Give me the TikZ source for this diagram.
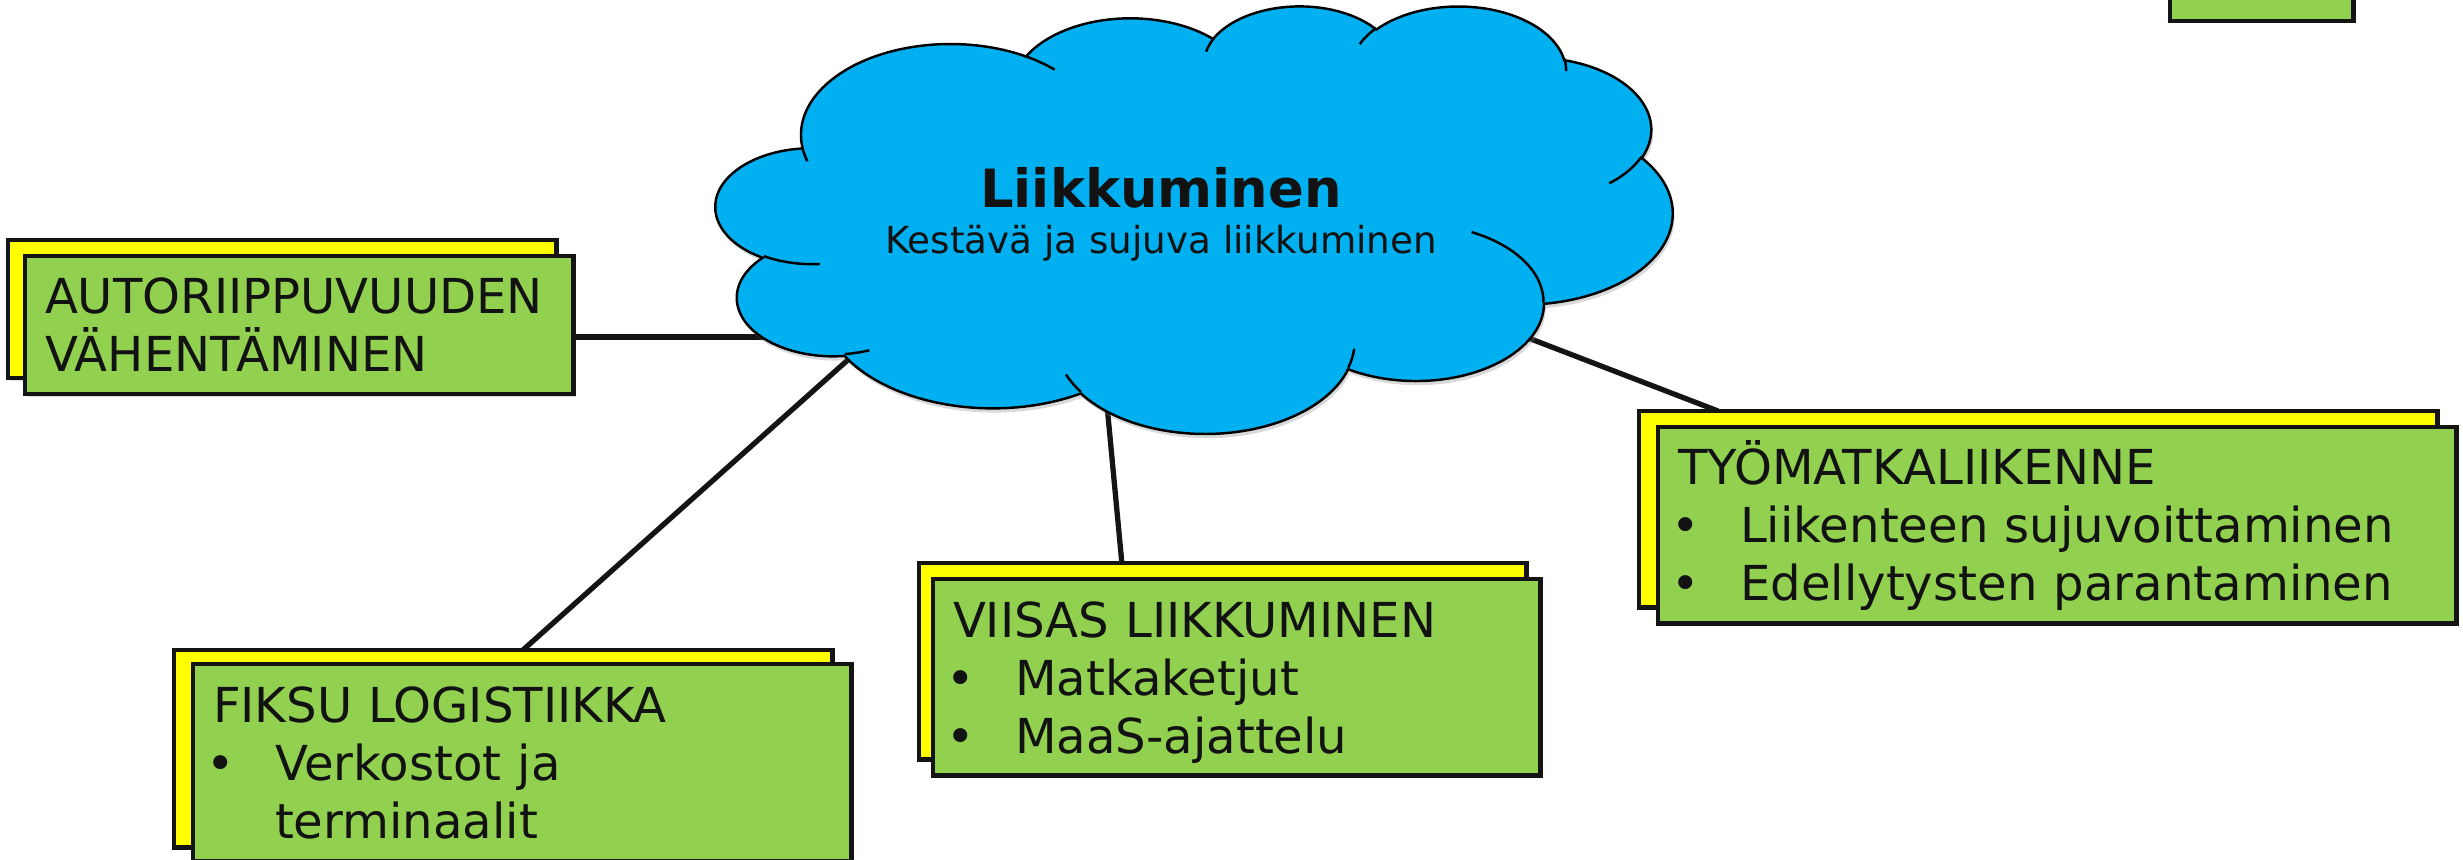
\documentclass[tikz,border=0pt]{standalone}
\usepackage{fontspec}
\setmainfont{DejaVu Sans}
\usetikzlibrary{calc,shadows,backgrounds}

\definecolor{cloudblue}{HTML}{00B0F0}
\definecolor{boxgreen}{HTML}{92D050}
\definecolor{boxyellow}{HTML}{FFFF00}

\newcommand{\itm}[1]{\makebox[0.62cm][l]{\hspace{-0.07cm}\textbullet}#1}

% elliptic arc given by x/y radius, start angle and sweep (angles as seen on the ellipse)
\newcommand{\cloudarc}[5]{%
  \pgfmathsetmacro{\arcst}{#4+mod(atan2(#2*sin(#4),#3*cos(#4))-(#4)+540,360)-180}%
  \pgfmathsetmacro{\arcen}{#4+#5+mod(atan2(#2*sin(#4+#5),#3*cos(#4+#5))-(#4+#5)+540,360)-180}%
  \pgfmathsetmacro{\arcdl}{\arcen-\arcst}%
  \edef\arcdo{\noexpand\tikzset{#1/.style={start angle=\arcst, delta angle=\arcdl, x radius=#2, y radius=#3}}}%
  \arcdo}

\begin{document}
\begin{tikzpicture}[x=0.01cm, y=-0.01cm]
        \tikzstyle{every node}=[inner sep=0pt, outer sep=0pt]
        \tikzstyle{backbox}=[draw=black!92, line width=1.35pt, fill=boxyellow, anchor=north west,
            drop shadow={opacity=0.25, shadow xshift=0.7pt, shadow yshift=-0.7pt}]
        \tikzstyle{frontbox}=[draw=black!92, line width=1.35pt, fill=boxgreen, anchor=north west,
            inner xsep=0.2cm, align=left, text=black!93, font=\fontsize{13.7}{16.5}\selectfont,
            drop shadow={opacity=0.25, shadow xshift=0.7pt, shadow yshift=-0.7pt}]
        \tikzstyle{link}=[line width=1.5pt, black!92]

        \useasboundingbox (0,0) rectangle (2463,859);

        % outline of the cloud
        \cloudarc{ca1}{67.53}{91.90}{-190.48748}{123.78053}
        \cloudarc{ca2}{53.33}{72.67}{-144.10238}{89.94523}
        \cloudarc{ca3}{43.65}{59.45}{-145.80792}{99.72302}
        \cloudarc{ca4}{48.57}{65.95}{-130.98607}{117.24173}
        \cloudarc{ca5}{53.33}{72.73}{-78.70888}{109.02692}
        \cloudarc{ca6}{67.75}{92.20}{-46.26725}{130.269}
        \cloudarc{ca7}{57.85}{78.67}{0.62502}{114.03333}
        \cloudarc{ca8}{67.52}{92.15}{22.4516}{115.17255}
        \cloudarc{ca9}{77.20}{105.43}{66.24263}{75.71102}
        \cloudarc{ca10}{43.60}{59.18}{-274.94208}{146.73557}
        \cloudarc{ca11}{43.45}{59.45}{-246.8285}{152.51885}
        % small inner strokes
        \cloudarc{ci1}{43.45}{59.45}{86.742}{26.4295}
        \cloudarc{ci2}{43.60}{59.18}{73.61047}{11.44747}
        \cloudarc{ci3}{67.52}{92.15}{137.62415}{14.0811}
        \cloudarc{ci4}{67.52}{92.15}{6.45327}{15.99835}
        \cloudarc{ci5}{57.85}{78.67}{-70.29235}{70.91737}
        \cloudarc{ci6}{53.33}{72.73}{30.31803}{27.7515}
        \cloudarc{ci7}{48.57}{65.95}{-13.74433}{14.85483}
        \cloudarc{ci8}{48.57}{65.95}{-149.18145}{18.19365}
        \cloudarc{ci9}{43.65}{59.45}{-163.49427}{17.69642}
        \cloudarc{ci10}{67.53}{91.90}{-66.70695}{12.31935}
        \cloudarc{ci11}{67.53}{91.90}{157.65435}{11.85817}

        \begin{scope}[shift={(716,5)}, x=0.02213cm, y=-0.0098843cm]
            \draw[fill=cloudblue, draw=black, line width=0.7pt,
                drop shadow={opacity=0.3, shadow xshift=0.5pt, shadow yshift=-1.2pt}]
                (39.00,143.70) arc[ca1] arc[ca2] arc[ca3] arc[ca4] arc[ca5] arc[ca6]
                arc[ca7] arc[ca8] arc[ca9] arc[ca10] arc[ca11] -- cycle;
            \draw[black, line width=0.7pt]
                (46.93,261.77) arc[ci1] (69.28,348.99) arc[ci2] (164.78,390.90) arc[ci3]
                (288.27,347.51) arc[ci4] (341.29,229.54) arc[ci5] (417.98,153.54) arc[ci6]
                (383.24,54.26) arc[ci7] (290.78,39.52) arc[ci8] (221.41,47.20) arc[ci9]
                (140.00,51.92) arc[ci10] (41.27,157.89) arc[ci11];
        \end{scope}

        \node[anchor=base, text=black!93, font=\fontsize{15}{18}\selectfont\bfseries] (title) at (1161,207) {Liikkuminen};
        \node[anchor=base, text=black!93, font=\fontsize{10.6}{13}\selectfont] (subtitle) at (1161,253) {Kestävä ja sujuva liikkuminen};

        % boxes
        \node[backbox, minimum width=5.48cm, minimum height=1.38cm] (autoback) at (8,240) {};
        \node[frontbox, minimum width=5.48cm, minimum height=1.38cm, text width=5.08cm] (auto) at (25,256)
            {AUTORIIPPUVUUDEN\\VÄHENTÄMINEN};

        \node[backbox, minimum width=6.58cm, minimum height=1.97cm] (fiksuback) at (174,650) {};
        \node[frontbox, minimum width=6.58cm, minimum height=1.97cm, text width=6.18cm] (fiksu) at (193,664)
            {FIKSU LOGISTIIKKA\\\itm{Verkostot ja}\\\hspace*{0.62cm}terminaalit};

        \node[backbox, minimum width=6.07cm, minimum height=1.96cm] (viisasback) at (919,563) {};
        \node[frontbox, minimum width=6.07cm, minimum height=1.96cm, text width=5.67cm, text height=13.4pt] (viisas) at (933,579)
            {VIISAS LIIKKUMINEN\\\itm{Matkaketjut}\\\itm{MaaS-ajattelu}};

        \node[backbox, minimum width=7.98cm, minimum height=1.96cm] (tyoback) at (1639,411) {};
        \node[frontbox, minimum width=7.98cm, minimum height=1.96cm, text width=7.58cm] (tyo) at (1658,427)
            {TYÖMATKALIIKENNE\\\itm{Liikenteen sujuvoittaminen}\\\itm{Edellytysten parantaminen}};

        \node[frontbox, anchor=south west, minimum width=1.83cm, minimum height=0.6cm] (topbox) at (2170,21) {};

        % connectors, under the cloud
        \coordinate (autoin) at (765,337);
        \coordinate (fiksuin) at (850,358);
        \coordinate (viisasin) at (1107,405);
        \coordinate (tyoin) at (1518,334);
        \begin{scope}[on background layer]
            \draw[link] (autoin -| auto.east) -- (autoin);
            \draw[link] ($(fiksuback.north west)!0.53!(fiksuback.north east)$) -- (fiksuin);
            \draw[link] ($(viisasback.north west)!0.334!(viisasback.north east)$) -- (viisasin);
            \draw[link] ($(tyoback.north west)!0.099!(tyoback.north east)$) -- (tyoin);
        \end{scope}
\end{tikzpicture}
\end{document}
